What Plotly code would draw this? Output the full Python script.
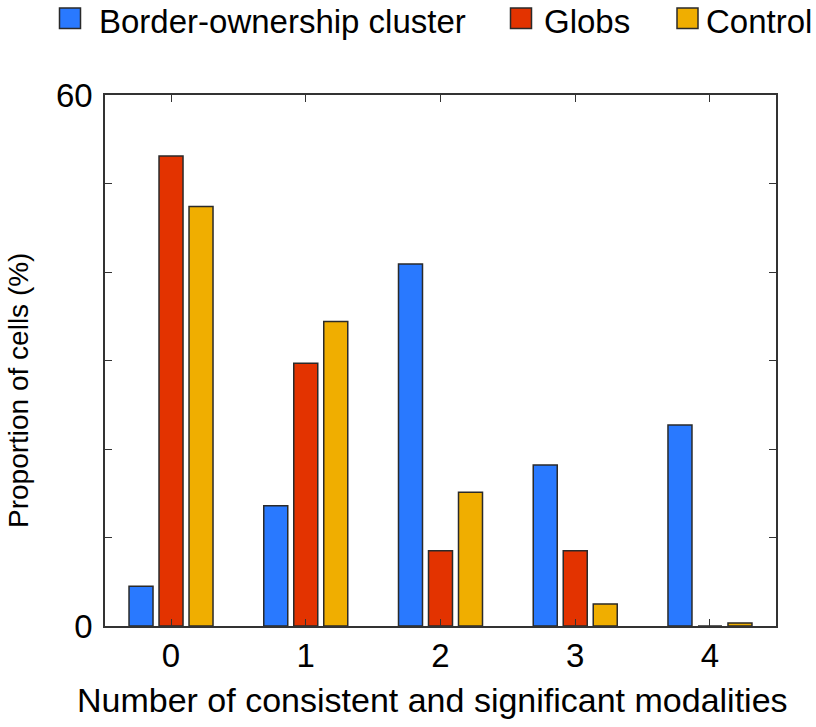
import plotly.graph_objects as go

categories = ["0", "1", "2", "3", "4"]
series_names = ["Border-ownership cluster", "Globs", "Control"]
border_ownership = [4.5, 13.6, 40.9, 18.2, 22.7]
globs = [53.1, 29.7, 8.5, 8.5, 0.0]
control = [47.4, 34.4, 15.1, 2.5, 0.35]
y_tick_vals = [0, 10, 20, 30, 40, 50, 60]
y_tick_text = ["0", "", "", "", "", "", "60"]
x_title = "Number of consistent and significant modalities"
y_title = "Proportion of cells (%)"

colors = ["#2979ff", "#e33300", "#f0ae00"]
FONT = "Liberation Sans, Arial, sans-serif"
AX = "#333333"

W, H = 816, 727
L, T, R, B = 105, 95, 40, 101
PW = W - L - R
PH = H - T - B


def px_x(fx):
    return (fx - L) / PW


def px_y(fy):
    return 1 + (T - fy) / PH


fig = go.Figure()
for name, vals, col in zip(series_names, [border_ownership, globs, control], colors):
    fig.add_trace(go.Bar(
        x=categories, y=vals, name=name, showlegend=False,
        marker=dict(color=col, line=dict(color="#2a2a2a", width=1.5)),
    ))

# custom legend (squares + labels) placed like the reference
legend_sq_x = [59.5, 510.5, 677]
legend_txt_x = [97, 542, 704]
shapes = []
annotations = []
for name, col, sx, tx in zip(series_names, colors, legend_sq_x, legend_txt_x):
    shapes.append(dict(type="rect", xref="paper", yref="paper",
                       x0=px_x(sx), x1=px_x(sx + 21), y0=px_y(28.5), y1=px_y(8),
                       fillcolor=col, line=dict(color="#2a2a2a", width=1.5)))
    annotations.append(dict(text=name, xref="paper", yref="paper",
                            x=px_x(tx), y=px_y(21.5), xanchor="left", yanchor="middle",
                            showarrow=False, font=dict(size=33, family=FONT, color="black")))

annotations.append(dict(text=x_title, xref="paper", yref="paper",
                        x=px_x(432), y=px_y(700), xanchor="center", yanchor="middle",
                        showarrow=False, font=dict(size=34, family=FONT, color="black")))
annotations.append(dict(text=y_title, xref="paper", yref="paper", textangle=-90,
                        x=px_x(18), y=px_y(391), xanchor="center", yanchor="middle",
                        showarrow=False, font=dict(size=28, family=FONT, color="black")))

fig.update_layout(
    width=W, height=H,
    margin=dict(l=L, r=R, t=T, b=B, autoexpand=False),
    paper_bgcolor="white", plot_bgcolor="white",
    barmode="group", bargap=0.332, bargroupgap=0.2,
    font=dict(family=FONT, size=33, color="black"),
    showlegend=False,
    shapes=shapes, annotations=annotations,
    xaxis=dict(
        type="category", range=[-0.49, 4.49],
        showline=True, linecolor=AX, linewidth=1.5, mirror="ticks",
        ticks="inside", ticklen=7, tickwidth=1.2, tickcolor=AX,
        showgrid=False, zeroline=False,
        tickfont=dict(size=33),
    ),
    yaxis=dict(
        range=[0, 60], tickmode="array", tickvals=y_tick_vals, ticktext=y_tick_text,
        showline=True, linecolor=AX, linewidth=1.5, mirror="ticks",
        ticks="inside", ticklen=7, tickwidth=1.2, tickcolor=AX,
        showgrid=False, zeroline=False,
        tickfont=dict(size=33), ticklabelstandoff=4,
    ),
)

fig.write_html("out.html", config={"displayModeBar": False},
               post_script="document.body.style.margin='0px';")
